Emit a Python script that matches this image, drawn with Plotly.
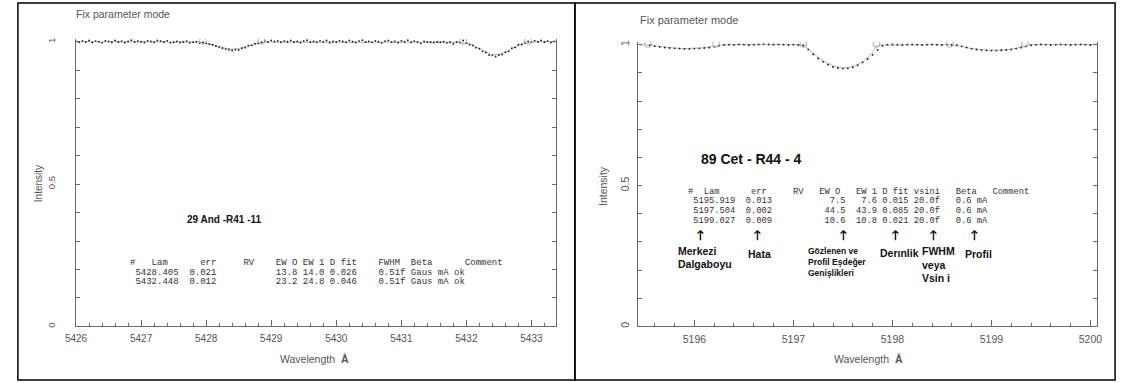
import plotly.graph_objects as go

W, H = 1126, 383

# ---------------- data: left panel (29 And) ----------------
left_lam0 = 5426.00
left_step = 0.05
left_flux = [
    1.001, 0.998, 1.003, 0.999, 1.004, 0.997, 1.002, 1.000, 0.996, 1.003,
    1.001, 0.998, 1.004, 0.999, 1.002, 0.997, 1.001, 1.005, 0.999, 1.002,
    1.000, 0.997, 1.003, 1.001, 0.998, 1.004, 1.002, 0.999, 1.003, 0.996,
    0.998, 1.001, 0.997, 0.999, 1.002, 0.996, 0.998, 1.000, 0.995, 0.997,
    0.994, 0.991, 0.989, 0.984, 0.981, 0.977, 0.974, 0.972, 0.969, 0.972,
    0.971, 0.977, 0.979, 0.986, 0.987, 0.993, 0.994, 0.998, 1.002, 0.999,
    1.004, 1.001, 1.003, 0.998, 1.002, 1.000, 1.004, 0.999, 1.001, 0.997,
    1.002, 1.005, 0.999, 1.001, 0.998, 1.003, 1.000, 1.004, 0.997, 1.001,
    0.999, 1.003, 1.001, 0.998, 1.004, 1.000, 0.997, 1.002, 1.005, 0.999,
    1.001, 0.998, 1.003, 1.000, 0.996, 1.002, 1.004, 0.999, 1.001, 0.997,
    1.003, 1.000, 1.005, 0.998, 1.002, 0.999, 0.994, 1.001, 0.999, 0.998,
    0.997, 0.999, 0.998, 1.000, 0.996, 0.998, 0.993, 0.999, 0.997, 1.004,
    0.995, 0.990, 0.987, 0.979, 0.975, 0.966, 0.962, 0.953, 0.952, 0.948,
    0.953, 0.955, 0.963, 0.966, 0.977, 0.980, 0.989, 0.990, 0.996, 1.001,
    0.998, 1.003, 1.000, 1.004, 0.999, 1.002, 0.997, 1.001,
]
left_fit_lam = [5426.0, 5427.9, 5428.0, 5428.1, 5428.2, 5428.3, 5428.4, 5428.5, 5428.6,
                5428.7, 5428.8, 5428.9, 5431.9, 5432.0, 5432.1, 5432.2, 5432.3, 5432.4,
                5432.5, 5432.6, 5432.7, 5432.8, 5432.9, 5433.0, 5433.38]
left_fit_flux = [1.0, 0.999, 0.995, 0.990, 0.983, 0.977, 0.974, 0.976, 0.983,
                 0.990, 0.995, 0.998, 0.998, 0.995, 0.987, 0.976, 0.964, 0.955,
                 0.955, 0.964, 0.977, 0.988, 0.995, 0.999, 1.0]
left_mark_lam = [5427.95, 5428.85, 5431.95, 5432.95]
left_mark_flux = [1.003, 1.003, 1.003, 1.003]

left_title = "29 And -R41 -11"
left_tab_lam = [5428.405, 5432.448]
left_tab_err = [0.021, 0.012]
left_tab_ewo = [13.8, 23.2]
left_tab_ew1 = [14.0, 24.8]
left_tab_dfit = [0.026, 0.046]
left_tab_fwhm = ["0.51f", "0.51f"]
left_tab_beta = ["Gaus mA", "Gaus mA"]
left_tab_comment = ["ok", "ok"]

# ---------------- data: right panel (89 Cet) ----------------
right_lam0 = 5195.55
right_step = 0.05
right_flux = [
    0.998, 0.995, 0.992, 0.990, 0.988, 0.987, 0.986, 0.985, 0.985, 0.986, 0.987, 0.988, 0.990, 0.993, 0.996, 0.999,
    1.000, 0.999, 1.001, 1.000, 0.999, 1.000, 1.001, 1.002, 1.001, 1.000, 1.001, 1.000, 0.999, 1.000, 0.999,
    0.997, 0.983, 0.966, 0.951, 0.939, 0.929, 0.921, 0.917, 0.915, 0.916, 0.920, 0.927, 0.937, 0.949, 0.964, 0.981, 0.996,
    1.000, 1.001, 1.000, 0.999, 1.000, 1.001, 1.000, 0.999, 1.000, 1.001, 1.000, 0.999, 1.000,
    0.999, 0.998, 0.994, 0.990, 0.986, 0.983, 0.981, 0.980, 0.979, 0.979, 0.980, 0.981, 0.983, 0.986, 0.990, 0.994, 0.998,
    1.000, 1.001, 1.000, 0.999, 1.000, 1.001, 1.000, 0.999, 1.000, 1.001, 1.000, 0.999,
]
right_fit_lam = [5195.45, 5195.53, 5195.6, 5195.7, 5195.8, 5195.9, 5196.0, 5196.1, 5196.2, 5196.25, 5196.3,
                 5197.1, 5197.15, 5197.2, 5197.3, 5197.4, 5197.5, 5197.6, 5197.7, 5197.8, 5197.84,
                 5198.58, 5198.65, 5198.7, 5198.8, 5198.9, 5199.0, 5199.1, 5199.2, 5199.3, 5199.34, 5199.4,
                 5200.07]
right_fit_flux = [0.999, 0.999, 0.996, 0.991, 0.988, 0.986, 0.987, 0.989, 0.994, 0.997, 1.0,
                  1.0, 0.985, 0.969, 0.943, 0.925, 0.917, 0.922, 0.939, 0.972, 0.998,
                  1.0, 0.997, 0.993, 0.986, 0.982, 0.980, 0.981, 0.984, 0.991, 0.996, 1.0,
                  1.0]
right_mark_lam = [5195.53, 5196.22, 5197.10, 5197.84, 5198.58, 5199.34]
right_mark_flux = [1.003, 1.003, 1.003, 1.003, 1.003, 1.003]

right_title = "89 Cet - R44 - 4"
right_tab_lam = [5195.919, 5197.504, 5199.027]
right_tab_err = [0.013, 0.002, 0.009]
right_tab_ewo = [7.5, 44.5, 10.6]
right_tab_ew1 = [7.6, 43.9, 10.8]
right_tab_dfit = [0.015, 0.085, 0.021]
right_tab_vsini = ["20.0f", "20.0f", "20.0f"]
right_tab_beta = [0.6, 0.6, 0.6]
right_tab_flag = ["mA", "mA", "mA"]

y_tick_vals = [0, 0.5, 1]
y_tick_text = ["0", "0.5", "1"]

# ---------------- helpers ----------------
def px(x):
    return x / W

def py(y):
    return 1 - y / H

def at_cols(tokens):
    s = ""
    for tok, col in tokens:
        if len(s) < col:
            s += " " * (col - len(s))
        s += tok
    return s

def nb(s):
    return s.replace(" ", "\u00a0")

AX = "#6a6a6a"
TXT = "#555555"
FONT = "Liberation Sans"

fig = go.Figure()

left_lam = [left_lam0 + i * left_step for i in range(len(left_flux))]
right_lam = [right_lam0 + i * right_step for i in range(len(right_flux))]

DOT = dict(color="#222", size=1.9)
RING = dict(symbol="circle-open", color="#aaa", size=7, line=dict(width=1))

# left traces
fig.add_trace(go.Scatter(x=left_fit_lam, y=left_fit_flux, mode="lines",
                         line=dict(color="#b8b8b8", width=1), xaxis="x", yaxis="y", hoverinfo="skip"))
fig.add_trace(go.Scatter(x=left_lam, y=left_flux, mode="markers", marker=DOT, xaxis="x", yaxis="y"))
fig.add_trace(go.Scatter(x=left_mark_lam, y=left_mark_flux, mode="markers", marker=RING,
                         xaxis="x", yaxis="y"))
# right traces
fig.add_trace(go.Scatter(x=right_fit_lam, y=right_fit_flux, mode="lines",
                         line=dict(color="#b8b8b8", width=1), xaxis="x2", yaxis="y2", hoverinfo="skip"))
fig.add_trace(go.Scatter(x=right_lam, y=right_flux, mode="markers", marker=DOT, xaxis="x2", yaxis="y2"))
fig.add_trace(go.Scatter(x=right_mark_lam, y=right_mark_flux, mode="markers", marker=RING,
                         xaxis="x2", yaxis="y2"))

def xaxis_cfg(dom, rng, anchor, fsize):
    return dict(domain=dom, range=rng, anchor=anchor, showline=True, linecolor=AX, linewidth=1,
                ticks="inside", ticklen=6, tickcolor=AX, dtick=1, tick0=0,
                minor=dict(dtick=0.2, tick0=0, ticks="inside", ticklen=3, tickcolor=AX),
                showgrid=False, zeroline=False, mirror=False,
                tickfont=dict(family=FONT, size=fsize, color=TXT), ticklabelstandoff=3)

def yaxis_cfg(dom, anchor, standoff, fsize):
    return dict(domain=dom, range=[0, 1.01], anchor=anchor, showline=True, linecolor=AX, linewidth=1,
                ticks="inside", ticklen=4, tickcolor=AX, tickmode="array",
                tickvals=y_tick_vals, ticktext=y_tick_text, tickangle=-90,
                minor=dict(dtick=0.1, tick0=0, ticks="inside", ticklen=4, tickcolor=AX),
                mirror="ticks", showgrid=False, zeroline=False,
                tickfont=dict(family=FONT, size=fsize, color=TXT), ticklabelstandoff=standoff)

# left: x 66..553 px, y=0 at 327, y=1 at 40 ; right: x 636..1102, y=0 at 327, y=1 at 43
fig.update_layout(
    xaxis=xaxis_cfg([px(66), px(553)], [5426.0, 5433.38], "y", 10),
    yaxis=yaxis_cfg([py(327), py(40 - 2.87)], "x", 16, 9.5),
    xaxis2=xaxis_cfg([px(636), px(1102)], [5195.43, 5200.07], "y2", 10.5),
    yaxis2=yaxis_cfg([py(327), py(43 - 2.84)], "x2", 4, 10.5),
)

annotations = []

def add_text(x, y, text, size, color, family=FONT, bold=False, xanchor="left", angle=0):
    t = "<b>%s</b>" % text if bold else text
    annotations.append(dict(x=px(x), y=py(y), xref="paper", yref="paper", text=t, showarrow=False,
                            xanchor=xanchor, yanchor="middle", textangle=angle,
                            font=dict(family=family, size=size, color=color)))

# headers and axis titles
add_text(64, 12, "Fix parameter mode", 10.5, TXT)
add_text(636, 18, "Fix parameter mode", 11, TXT)
add_text(308, 360, "Wavelength  <b>Å</b>", 10.5, TXT, xanchor="center")
add_text(870, 360, "Wavelength  <b>Å</b>", 10.5, TXT, xanchor="center")
add_text(28, 183, "Intensity", 10, TXT, xanchor="center", angle=-90)
add_text(600, 185, "Intensity", 10.5, TXT, xanchor="center", angle=-90)

# left title and table
add_text(177, 219, left_title, 10, "#111", family="Liberation Sans", bold=True)
MONO = "Liberation Mono"
left_header = at_cols([("#", 0), ("Lam", 4), ("err", 13), ("RV", 21), ("EW O", 27), ("EW 1", 32),
                       ("D fit", 37), ("FWHM", 46), ("Beta", 52), ("Comment", 62)])
add_text(119, 263, nb(left_header), 9, "#333", family=MONO)
for i in range(len(left_tab_lam)):
    row = " %.3f  %.3f%s%4.1f %4.1f %.3f    %s %s %s" % (
        left_tab_lam[i], left_tab_err[i], " " * 11, left_tab_ewo[i], left_tab_ew1[i],
        left_tab_dfit[i], left_tab_fwhm[i], left_tab_beta[i], left_tab_comment[i])
    add_text(119, 273 + 9.5 * i, nb(row), 9, "#333", family=MONO)

# right title and table
add_text(698, 158, right_title, 14, "#111", family="Liberation Sans", bold=True)
right_header = at_cols([("#", 0), ("Lam", 3), ("err", 12), ("RV", 20), ("EW O", 25), ("EW 1", 32),
                        ("D fit", 37), ("vsini", 43), ("Beta", 51), ("Comment", 58)])
add_text(685, 191, nb(right_header), 8.75, "#333", family=MONO)
for i in range(len(right_tab_lam)):
    row = " %.3f  %.3f%s%4s%6s %.3f %s   %.1f %s" % (
        right_tab_lam[i], right_tab_err[i], " " * 10, "%.1f" % right_tab_ewo[i],
        "%.1f" % right_tab_ew1[i], right_tab_dfit[i], right_tab_vsini[i],
        right_tab_beta[i], right_tab_flag[i])
    add_text(685, 201 + 10 * i, nb(row), 8.75, "#333", family=MONO)

# explanatory arrows and labels
for ax_ in [699, 757, 845, 897, 936, 977]:
    add_text(ax_, 235, "🡑", 13, "#000", family="DejaVu Sans", bold=True, xanchor="center")
LB = 10.5
add_text(675, 251, "Merkezi", LB, "#111", bold=True)
add_text(675, 264, "Dalgaboyu", LB, "#111", bold=True)
add_text(746, 254, "Hata", LB, "#111", bold=True)
add_text(806, 251, "Gözlenen ve", 8.5, "#111", bold=True)
add_text(806, 262, "Profil Eşdeğer", 8.5, "#111", bold=True)
add_text(806, 273, "Genişlikleri", 8.5, "#111", bold=True)
add_text(879, 253, "Derınlik", LB, "#111", bold=True)
add_text(922, 251, "FWHM", LB, "#111", bold=True)
add_text(922, 265, "veya", LB, "#111", bold=True)
add_text(922, 278, "Vsin i", LB, "#111", bold=True)
add_text(966, 254, "Profil", LB, "#111", bold=True)

shapes = [
    dict(type="rect", xref="paper", yref="paper", x0=px(7), x1=px(572), y0=py(381), y1=py(1),
         line=dict(color="#000", width=1.5)),
    dict(type="rect", xref="paper", yref="paper", x0=px(572), x1=px(1120), y0=py(381), y1=py(1),
         line=dict(color="#000", width=1.5)),
]

fig.update_layout(
    width=W, height=H, margin=dict(l=0, r=0, t=0, b=0),
    paper_bgcolor="white", plot_bgcolor="white", showlegend=False,
    annotations=annotations, shapes=shapes, hovermode=False,
)

fig.write_html("out.html", config={"displayModeBar": False, "staticPlot": True},
               post_script="document.body.style.margin='0px';document.body.style.overflow='hidden';")
